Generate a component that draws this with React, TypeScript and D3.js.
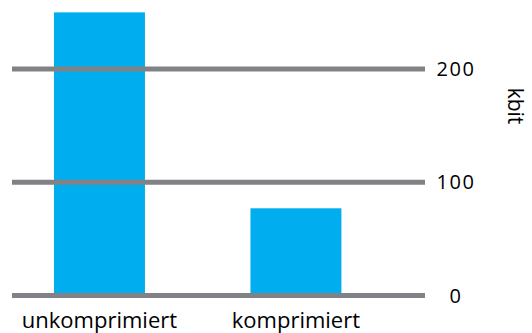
import React from "react";
import * as d3 from "d3";

const categories = ["unkomprimiert", "komprimiert"];
const values = [250, 77];
const ticks = [0, 100, 200];
const unit = "kbit";

export default function App() {
  const W = 532, H = 333;
  const y = d3.scaleLinear().domain([0, 200]).range([295.5, 69]);
  const x = d3.scaleBand<string>().domain(categories).range([14.7, 380.7]).paddingInner(0.537).paddingOuter(0.2);
  const font = "'Open Sans', sans-serif";
  return (
    <svg width={W} height={H} style={{ position: "absolute", left: 0, top: 0 }}>
      {categories.map((c, i) => (
        <rect key={c} x={x(c)} y={y(values[i])} width={x.bandwidth()} height={y(0) - y(values[i])} fill="#00AEEF" />
      ))}
      {ticks.map((t) => (
        <g key={t}>
          <line x1={12} x2={425} y1={y(t)} y2={y(t)} stroke="#808285" strokeWidth={5} />
          <text x={456} y={y(t)} dy="0.36em" textAnchor="middle" fontFamily={font} fontSize={20} letterSpacing={1.5} fill="#000">{t}</text>
        </g>
      ))}
      {categories.map((c) => (
        <text key={c} x={(x(c) as number) + x.bandwidth() / 2} y={328} textAnchor="middle" fontFamily={font} fontSize={22} fill="#000">{c}</text>
      ))}
      <text transform="translate(508,106) rotate(90)" textAnchor="middle" fontFamily={font} fontSize={21} fill="#000">{unit}</text>
    </svg>
  );
}
